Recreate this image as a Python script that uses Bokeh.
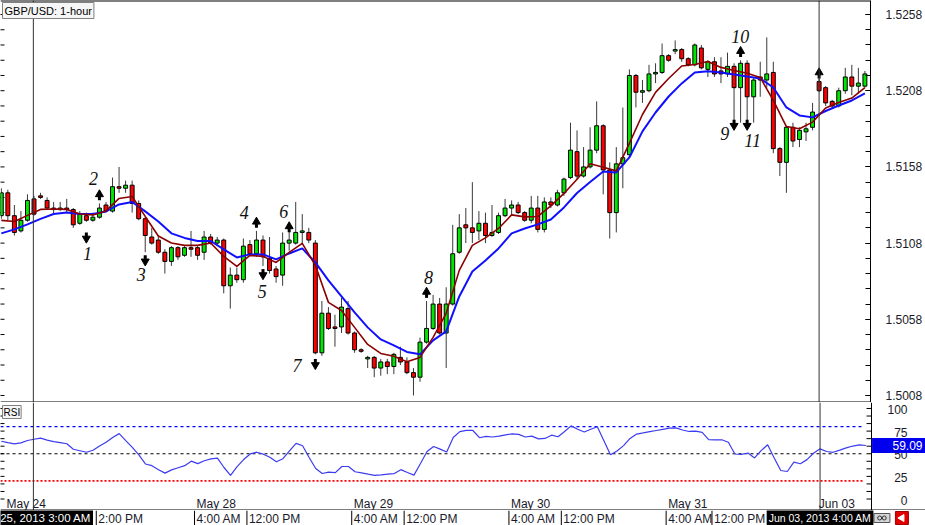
import numpy as np
from bokeh.plotting import figure
from bokeh.models import ColumnDataSource, Range1d, Span, Label, FixedTicker, PrintfTickFormatter
from bokeh.layouts import column
from bokeh.core.properties import value
from bokeh.embed import file_html
from bokeh.resources import INLINE

# ---------------- data (GBP/USD 1-hour) ----------------
open_ = [1.5126, 1.5141, 1.5126, 1.5116, 1.5123, 1.5137, 1.5139, 1.5136, 1.5131, 1.5130,
         1.5131, 1.5130, 1.5121, 1.5126, 1.5123, 1.5125, 1.5133, 1.5129, 1.5145, 1.5144,
         1.5146, 1.5134, 1.5124, 1.5112, 1.5110, 1.5102, 1.5096, 1.5105, 1.5100, 1.5105,
         1.5105, 1.5102, 1.5112, 1.5108, 1.5110, 1.5080, 1.5087, 1.5084, 1.5107, 1.5101,
         1.5110, 1.5098, 1.5091, 1.5087, 1.5108, 1.5108, 1.5115, 1.5115, 1.5108, 1.5036,
         1.5062, 1.5053, 1.5053, 1.5065, 1.5049, 1.5038, 1.5032, 1.5033, 1.5026, 1.5030,
         1.5027, 1.5033, 1.5030, 1.5023, 1.5020, 1.5043, 1.5052, 1.5068, 1.5049, 1.5068,
         1.5102, 1.5120, 1.5118, 1.5116, 1.5121, 1.5113, 1.5115, 1.5126, 1.5131, 1.5133,
         1.5128, 1.5123, 1.5131, 1.5117, 1.5135, 1.5133, 1.5141, 1.5151, 1.5168, 1.5152,
         1.5158, 1.5169, 1.5185, 1.5156, 1.5128, 1.5160, 1.5166, 1.5218, 1.5207, 1.5208,
         1.5219, 1.5220, 1.5231, 1.5234, 1.5235, 1.5229, 1.5225, 1.5236, 1.5222, 1.5227,
         1.5221, 1.5219, 1.5224, 1.5210, 1.5226, 1.5204, 1.5217, 1.5215, 1.5220, 1.5170,
         1.5161, 1.5184, 1.5176, 1.5181, 1.5184, 1.5214, 1.5210, 1.5201, 1.5198, 1.5208,
         1.5217, 1.5211, 1.5211]
high = [1.5144, 1.5143, 1.5133, 1.5129, 1.5140, 1.5139, 1.5141, 1.5138, 1.5135, 1.5135,
        1.5137, 1.5131, 1.5129, 1.5128, 1.5128, 1.5134, 1.5135, 1.5151, 1.5158, 1.5149,
        1.5149, 1.5136, 1.5125, 1.5118, 1.5113, 1.5104, 1.5106, 1.5106, 1.5106, 1.5116,
        1.5106, 1.5116, 1.5114, 1.5112, 1.5111, 1.5092, 1.5092, 1.5111, 1.5110, 1.5116,
        1.5113, 1.5112, 1.5093, 1.5115, 1.5121, 1.5135, 1.5127, 1.5118, 1.5110, 1.5070,
        1.5066, 1.5061, 1.5072, 1.5070, 1.5050, 1.5039, 1.5034, 1.5034, 1.5032, 1.5032,
        1.5036, 1.5040, 1.5033, 1.5026, 1.5046, 1.5070, 1.5074, 1.5072, 1.5079, 1.5120,
        1.5127, 1.5131, 1.5148, 1.5129, 1.5128, 1.5133, 1.5128, 1.5137, 1.5136, 1.5135,
        1.5129, 1.5139, 1.5139, 1.5138, 1.5138, 1.5143, 1.5151, 1.5187, 1.5182, 1.5171,
        1.5184, 1.5201, 1.5186, 1.5161, 1.5171, 1.5197, 1.5222, 1.5219, 1.5215, 1.5225,
        1.5226, 1.5239, 1.5232, 1.5241, 1.5236, 1.5230, 1.5239, 1.5238, 1.5228, 1.5230,
        1.5230, 1.5233, 1.5226, 1.5228, 1.5228, 1.5217, 1.5227, 1.5243, 1.5227, 1.5171,
        1.5185, 1.5187, 1.5184, 1.5187, 1.5200, 1.5216, 1.5211, 1.5202, 1.5210, 1.5223,
        1.5225, 1.5223, 1.5221]
low = [1.5124, 1.5123, 1.5113, 1.5115, 1.5122, 1.5126, 1.5137, 1.5130, 1.5127, 1.5129,
       1.5128, 1.5118, 1.5120, 1.5122, 1.5122, 1.5124, 1.5128, 1.5128, 1.5141, 1.5141,
       1.5128, 1.5123, 1.5102, 1.5107, 1.5101, 1.5088, 1.5093, 1.5097, 1.5099, 1.5099,
       1.5097, 1.5097, 1.5107, 1.5106, 1.5075, 1.5065, 1.5082, 1.5082, 1.5100, 1.5099,
       1.5093, 1.5088, 1.5082, 1.5080, 1.5103, 1.5107, 1.5107, 1.5108, 1.5035, 1.5034,
       1.5051, 1.5040, 1.5049, 1.5048, 1.5036, 1.5036, 1.5026, 1.5020, 1.5021, 1.5022,
       1.5022, 1.5028, 1.5022, 1.5008, 1.5017, 1.5042, 1.5051, 1.5048, 1.5026, 1.5067,
       1.5101, 1.5108, 1.5108, 1.5110, 1.5108, 1.5112, 1.5114, 1.5125, 1.5126, 1.5127,
       1.5122, 1.5121, 1.5115, 1.5115, 1.5131, 1.5132, 1.5139, 1.5150, 1.5150, 1.5151,
       1.5157, 1.5167, 1.5140, 1.5111, 1.5115, 1.5144, 1.5164, 1.5197, 1.5200, 1.5207,
       1.5213, 1.5219, 1.5227, 1.5232, 1.5227, 1.5224, 1.5224, 1.5222, 1.5217, 1.5217,
       1.5213, 1.5217, 1.5184, 1.5187, 1.5185, 1.5187, 1.5204, 1.5210, 1.5167, 1.5152,
       1.5141, 1.5171, 1.5171, 1.5175, 1.5182, 1.5207, 1.5198, 1.5196, 1.5197, 1.5206,
       1.5205, 1.5206, 1.5210]
close = [1.5141, 1.5126, 1.5115, 1.5123, 1.5136, 1.5127, 1.5138, 1.5131, 1.5130, 1.5131,
         1.5130, 1.5120, 1.5127, 1.5123, 1.5125, 1.5131, 1.5129, 1.5145, 1.5144, 1.5146,
         1.5134, 1.5124, 1.5113, 1.5108, 1.5102, 1.5096, 1.5105, 1.5099, 1.5105, 1.5104,
         1.5100, 1.5112, 1.5108, 1.5110, 1.5080, 1.5087, 1.5084, 1.5106, 1.5101, 1.5110,
         1.5099, 1.5090, 1.5086, 1.5108, 1.5110, 1.5115, 1.5116, 1.5110, 1.5036, 1.5062,
         1.5052, 1.5052, 1.5066, 1.5049, 1.5038, 1.5037, 1.5033, 1.5026, 1.5030, 1.5027,
         1.5035, 1.5030, 1.5023, 1.5020, 1.5043, 1.5052, 1.5068, 1.5049, 1.5068, 1.5101,
         1.5118, 1.5118, 1.5115, 1.5121, 1.5113, 1.5115, 1.5126, 1.5131, 1.5133, 1.5128,
         1.5123, 1.5131, 1.5117, 1.5135, 1.5133, 1.5141, 1.5150, 1.5169, 1.5152, 1.5158,
         1.5169, 1.5185, 1.5156, 1.5128, 1.5160, 1.5164, 1.5218, 1.5207, 1.5208, 1.5219,
         1.5220, 1.5231, 1.5228, 1.5235, 1.5229, 1.5225, 1.5238, 1.5223, 1.5227, 1.5219,
         1.5219, 1.5224, 1.5210, 1.5226, 1.5204, 1.5215, 1.5215, 1.5219, 1.5170, 1.5161,
         1.5184, 1.5175, 1.5182, 1.5183, 1.5194, 1.5208, 1.5200, 1.5198, 1.5208, 1.5217,
         1.5211, 1.5213, 1.5219]
bars = list(range(len(close)))

# moving averages read every second bar
ma_bars = bars[::2]
fast_ma = [1.51229, 1.51222, 1.51262, 1.51301, 1.51304, 1.51301, 1.51271, 1.51265, 1.51291, 1.51373,
           1.51386, 1.51255, 1.51127, 1.51081, 1.51065, 1.51065, 1.51081, 1.50993, 1.50927, 1.50999,
           1.50993, 1.50953, 1.51019, 1.51078, 1.50934, 1.50691, 1.50638, 1.50527, 1.50415, 1.50356,
           1.50337, 1.50301, 1.50330, 1.50461, 1.50619, 1.50901, 1.51065, 1.51114, 1.51176, 1.51265,
           1.51252, 1.51255, 1.51324, 1.51406, 1.51499, 1.51601, 1.51578, 1.51554, 1.51734, 1.51924,
           1.52069, 1.52160, 1.52242, 1.52252, 1.52272, 1.52233, 1.52213, 1.52195, 1.52167, 1.52016,
           1.51845, 1.51830, 1.51874, 1.51967, 1.52003, 1.52032, 1.52101]
slow_ma = [1.51144, 1.51170, 1.51203, 1.51239, 1.51271, 1.51281, 1.51271, 1.51271, 1.51288, 1.51334,
           1.51350, 1.51288, 1.51222, 1.51144, 1.51114, 1.51094, 1.51094, 1.51039, 1.50986, 1.51006,
           1.51006, 1.50973, 1.51012, 1.51045, 1.50953, 1.50835, 1.50730, 1.50625, 1.50527, 1.50448,
           1.50409, 1.50366, 1.50350, 1.50442, 1.50501, 1.50730, 1.50894, 1.50966, 1.51045, 1.51144,
           1.51176, 1.51203, 1.51235, 1.51314, 1.51409, 1.51481, 1.51550, 1.51544, 1.51642, 1.51813,
           1.51937, 1.52042, 1.52128, 1.52200, 1.52208, 1.52200, 1.52187, 1.52173, 1.52160, 1.52101,
           1.51970, 1.51918, 1.51905, 1.51947, 1.51983, 1.52016, 1.52062]

rsi = [63.8, 62.2, 60.8, 62.0, 64.6, 66.0, 67.2, 65.0, 63.3, 62.2,
       61.0, 55.0, 53.3, 51.6, 53.8, 58.6, 62.7, 68.0, 72.2, 64.5,
       57.1, 48.7, 38.7, 36.8, 32.4, 28.6, 32.2, 34.5, 36.8, 41.8,
       39.1, 42.3, 44.3, 45.1, 34.8, 26.0, 35.7, 43.6, 49.8, 51.7,
       49.5, 46.1, 41.2, 44.5, 53.1, 61.4, 58.8, 45.9, 33.7, 28.2,
       29.6, 29.1, 35.9, 35.9, 30.1, 28.8, 27.4, 26.1, 26.7, 27.4,
       28.1, 32.4, 29.3, 26.4, 39.2, 52.5, 58.0, 55.1, 51.9, 68.0,
       74.4, 75.9, 75.7, 67.7, 69.1, 68.5, 69.5, 70.9, 71.9, 71.4,
       68.5, 69.4, 66.4, 66.9, 70.5, 68.8, 74.6, 80.8, 77.1, 74.0,
       77.0, 79.8, 64.3, 48.8, 53.1, 59.0, 66.9, 71.7, 73.0, 74.4,
       75.7, 77.0, 78.3, 78.5, 76.2, 74.6, 74.9, 73.6, 65.5, 65.4,
       65.4, 62.7, 49.7, 49.3, 50.8, 45.4, 53.4, 59.9, 45.4, 31.5,
       30.4, 40.7, 38.9, 43.5, 50.5, 55.4, 52.5, 51.6, 54.0, 56.5,
       58.5, 59.7, 59.09]
rsi_levels = [80, 50, 20]
rsi_level_colors = ["#0000ff", "#000000", "#ff0000"]

# signal arrows and their numbers
sig_bars = [13, 15, 22, 39, 40, 44, 48, 65, 112, 113, 114, 125]
sig_dir = ["down", "up", "down", "up", "down", "up", "down", "up", "down", "up", "down", "up"]
sig_price = [1.5112, 1.5139, 1.5097, 1.5121, 1.5088, 1.5118, 1.5029, 1.5075, 1.5186, 1.5233, 1.5186, 1.5219]
num_text = ["1", "2", "3", "4", "5", "6", "7", "8", "9", "10", "11"]
num_bar = [13.16, 14.08, 21.4, 37.13, 39.88, 43.16, 45.18, 65.3, 110.56, 112.93, 114.84]
num_price = [1.51014, 1.51504, 1.50871, 1.51281, 1.50763, 1.51288, 1.50278, 1.50855, 1.51800, 1.52436, 1.51754]

cursor_bars = [4.9, 125.0]

price_ticks = [1.5008, 1.5058, 1.5108, 1.5158, 1.5208, 1.5258]
price_minor = [round(1.5008 + 0.001 * k, 4) for k in range(27)]
rsi_ticks = [0, 25, 50, 75, 100]
rsi_tick_labels = ["0", "25", "50", "75", "100"]
rsi_minor = [round(100 * k / 12, 2) for k in range(13)]

date_tick_bars = [1, 30, 54, 78, 102, 125]
date_labels = ["May 24", "May 28", "May 29", "May 30", "May 31", "Jun 03"]
time_tick_bars = [15, 30, 38, 54, 62, 78, 86, 102, 109]
time_labels = ["2:00 PM", "4:00 AM", "12:00 PM", "4:00 AM", "12:00 PM",
               "4:00 AM", "12:00 PM", "4:00 AM", "12:00 PM"]
cursor_texts = ["25, 2013 3:00 AM", "Jun 03, 2013 4:00 AM"]
icon_bars = [134.45, 137.5]

# ---------------- layout constants ----------------
PXB = 6.55                     # pixels per bar
FRAME_W = 871
X0 = -0.8 / PXB
X1 = X0 + FRAME_W / PXB        # right edge of the chart area (price axis line)
XF = X0 + 925 / PXB            # right edge of the window
LEVEL_END = 131.5              # dashed RSI levels stop just before the axis
P_TOP, P_BOT = 1.52672, 1.50034
R_TOP, R_BOT = 106.6, -12.7
PP = (P_TOP - P_BOT) / 402     # price per pixel
PR = (R_TOP - R_BOT) / 108     # rsi unit per pixel
FONT = "Liberation Sans"
TXT = "#1a1a2a"

def make_fig(h, x_range, y_range, right_axis, border_right):
    f = figure(width=925, height=h, x_range=x_range, y_range=y_range,
               output_backend="svg", toolbar_location=None, title=None,
               x_axis_location=None, y_axis_location="right" if right_axis else None,
               min_border_left=0, min_border_right=border_right,
               min_border_top=0, min_border_bottom=0,
               background_fill_color="white", border_fill_color="white",
               outline_line_color=None)
    f.frame_align = False
    f.xgrid.visible = False
    f.ygrid.visible = False
    return f

# ---------------- price panel ----------------
p1 = make_fig(402, Range1d(X0, X1), Range1d(P_BOT, P_TOP), True, 54)
ax = p1.yaxis[0]
ax.ticker = FixedTicker(ticks=price_ticks, minor_ticks=price_minor)
ax.formatter = PrintfTickFormatter(format="%.4f")
ax.axis_line_color = "black"
ax.major_tick_in = 5
ax.major_tick_out = 0
ax.minor_tick_in = 5
ax.minor_tick_out = 0
ax.major_tick_line_color = "black"
ax.minor_tick_line_color = "black"
ax.major_label_text_font = FONT
ax.major_label_text_font_size = "12px"
ax.major_label_text_color = TXT
ax.major_label_standoff = 15

for cb in cursor_bars:
    p1.add_layout(Span(location=cb, dimension="height", line_color="#333333", line_width=1))

p1.scatter(x=[X0] * len(price_minor), y=price_minor, marker="dash", size=8,
           line_color="black", line_width=1)

up = [c >= o for o, c in zip(open_, close)]
src = ColumnDataSource(dict(
    x=bars,
    top=[max(o, c) for o, c in zip(open_, close)],
    bottom=[min(o, c) for o, c in zip(open_, close)],
    high=high, low=low,
    color=["#00e600" if u else "#ff0000" for u in up],
))
p1.segment(x0="x", y0="high", x1="x", y1="low", source=src, line_color="#3a3a3a", line_width=1)
p1.vbar(x="x", width=0.6, top="top", bottom="bottom", source=src,
        fill_color="color", line_color="black", line_width=1)

p1.line(ma_bars, slow_ma, line_color="#1010ff", line_width=2)
p1.line(ma_bars, fast_ma, line_color="#8b0000", line_width=1.6)

# arrows
ux = [b for b, d in zip(sig_bars, sig_dir) if d == "up"]
uy = [p for p, d in zip(sig_price, sig_dir) if d == "up"]
dx = [b for b, d in zip(sig_bars, sig_dir) if d == "down"]
dy = [p for p, d in zip(sig_price, sig_dir) if d == "down"]
p1.segment(x0=ux, y0=[v - 4.5 * PP for v in uy], x1=ux, y1=[v + 0.5 * PP for v in uy],
           line_color="black", line_width=3)
p1.scatter(x=ux, y=[v + 1.5 * PP for v in uy], marker="triangle", size=8,
           fill_color="black", line_color="black")
p1.segment(x0=dx, y0=[v + 4.5 * PP for v in dy], x1=dx, y1=[v - 0.5 * PP for v in dy],
           line_color="black", line_width=3)
p1.scatter(x=dx, y=[v - 1.5 * PP for v in dy], marker="inverted_triangle", size=8,
           fill_color="black", line_color="black")

p1.text(x=num_bar, y=num_price, text=num_text, text_align="center", text_baseline="middle",
        text_font=value("Liberation Serif"), text_font_style="italic",
        text_font_size="18px", text_color="#111111")

p1.add_layout(Span(location=P_TOP, dimension="width", line_color="black", line_width=2))
p1.add_layout(Span(location=P_BOT, dimension="width", line_color="black", line_width=2))

p1.add_layout(Label(x=X0, y=P_TOP, x_offset=2, y_offset=-2, text="GBP/USD: 1-hour",
                    text_align="left", text_baseline="top", text_font=FONT,
                    text_font_size="11px", text_color="#000000",
                    background_fill_color="#f6f6f6", border_line_color="#808080",
                    padding=2))

# ---------------- RSI panel (full window width, axis drawn inside) ----------------
p2 = make_fig(108, Range1d(X0, XF), Range1d(R_BOT, R_TOP), False, 0)

for cb in cursor_bars:
    p2.add_layout(Span(location=cb, dimension="height", line_color="#333333", line_width=1))
for lv, col in zip(rsi_levels, rsi_level_colors):
    p2.segment(x0=[X0], y0=[lv], x1=[LEVEL_END], y1=[lv], line_color=col,
               line_width=1.6 if lv == 20 else 1.1, line_dash="2 2" if lv == 20 else "3 3")

p2.scatter(x=[X0] * len(rsi_minor), y=rsi_minor, marker="dash", size=8, line_color="black")
p2.line(bars, rsi, line_color="#3c3cf0", line_width=1.2)

p2.text(x=[b - 0.5 for b in date_tick_bars], y=[-5.0] * len(date_tick_bars), text=date_labels,
        x_offset=2, text_align="left", text_baseline="middle",
        text_font=value(FONT), text_font_size="12px", text_color=TXT)

# right axis of the RSI panel
p2.segment(x0=[X1], y0=[R_BOT], x1=[X1], y1=[R_TOP], line_color="black", line_width=1)
p2.segment(x0=[X1 - 5 / PXB] * len(rsi_minor), y0=rsi_minor, x1=[X1] * len(rsi_minor), y1=rsi_minor,
           line_color="black", line_width=1)
p2.text(x=[X1] * len(rsi_ticks), y=rsi_ticks, text=rsi_tick_labels, x_offset=36, y_offset=1,
        text_align="right", text_baseline="middle",
        text_font=value(FONT), text_font_size="12px", text_color=TXT)

# current value box
p2.quad(left=[X1 + 0.1], right=[XF], top=[rsi[-1] + 7 * PR], bottom=[rsi[-1] - 7 * PR],
        fill_color="#0000ee", line_color="#0000ee")
p2.text(x=[XF], y=[rsi[-1]], text=[f"{rsi[-1]:.2f}"], x_offset=-3,
        text_align="right", text_baseline="middle",
        text_font=value(FONT), text_font_size="12px", text_color="white")

p2.add_layout(Span(location=R_BOT, dimension="width", line_color="black", line_width=2))

p2.add_layout(Label(x=X0, y=R_TOP, x_offset=2, y_offset=-3, text="RSI",
                    text_align="left", text_baseline="top", text_font=FONT,
                    text_font_size="10px", text_color="#000000",
                    background_fill_color="#f6f6f6", border_line_color="#808080",
                    padding=1))

# ---------------- time axis row ----------------
p3 = make_fig(15, Range1d(X0, XF), Range1d(0, 1), False, 0)
p3.segment(x0=[b - 0.5 for b in time_tick_bars], y0=[0] * len(time_tick_bars),
           x1=[b - 0.5 for b in time_tick_bars], y1=[1] * len(time_tick_bars),
           line_color="black", line_width=1)
p3.text(x=[b - 0.5 for b in time_tick_bars], y=[0.45] * len(time_tick_bars), text=time_labels,
        x_offset=2, text_align="left", text_baseline="middle",
        text_font=value(FONT), text_font_size="12px", text_color=TXT)

p3.add_layout(Label(x=14.0, y=0.5, text=cursor_texts[0], text_align="right",
                    text_baseline="middle", text_font=FONT, text_font_size="11.5px",
                    text_color="white", background_fill_color="black", padding=2))
p3.add_layout(Label(x=cursor_bars[1], y=0.5, text=cursor_texts[1], text_align="center",
                    text_baseline="middle", text_font=FONT, text_font_size="10.5px",
                    text_color="white", background_fill_color="black", padding=2))

p3.rect(x=[icon_bars[0]], y=[0.5], width=16, height=9, width_units="screen", height_units="screen",
        fill_color="#d4d4d4", line_color="#555555")
p3.scatter(x=[icon_bars[0] - 0.35, icon_bars[0] + 0.35], y=[0.5, 0.5], marker="circle", size=4,
           fill_color=None, line_color="#333333")
p3.rect(x=[icon_bars[1]], y=[0.5], width=13, height=13, width_units="screen", height_units="screen",
        fill_color="#e00000", line_color="#a00000")
p3.scatter(x=[icon_bars[1]], y=[0.5], marker="triangle", angle=np.pi / 2, size=7,
           fill_color="white", line_color="white")

layout = column(p1, p2, p3, spacing=0)
open("out.html", "w").write(file_html(layout, INLINE))
